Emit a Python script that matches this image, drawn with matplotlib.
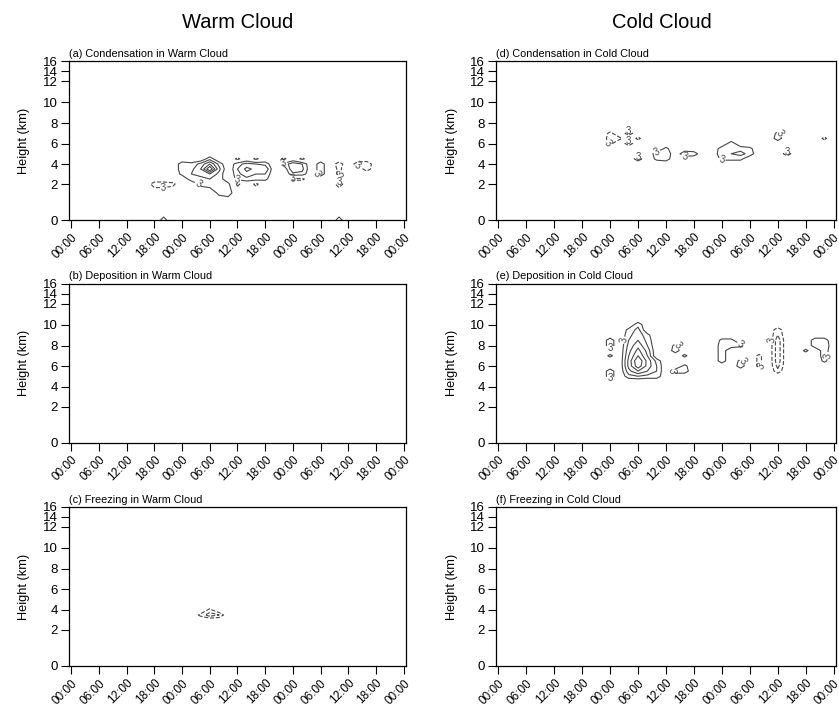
import numpy as np
import matplotlib
matplotlib.use("Agg")
import matplotlib.pyplot as plt

plt.rcParams['font.family'] = ['Liberation Sans', 'DejaVu Sans']

# time axis: 72 h, tick every 6 h
tick_hours = list(range(0, 73, 6))
tick_labels = ['00:00', '06:00', '12:00', '18:00'] * 3 + ['00:00']
height_ticks = [0, 2, 4, 6, 8, 10, 12, 14, 16]

# grid the values were read on (2 h x 0.5 km)
grid_hours = np.arange(0, 73, 2)
grid_km = np.arange(0, 16.01, 0.5)

# nonzero cells: (height km, first hour, values every 2 h)
cond_warm = [
    (0.0, 20, [4.5]), (0.0, 58, [4.5]),
    (2.0, 18, [-5, -5, -4]),
    (4.5, 30, [5]),
    (4.0, 24, [5, 4, 7, 12, 5]),
    (3.5, 24, [5, 5, 9, 18, 7]),
    (3.0, 24, [4, 6, 7, 9, 5]),
    (2.5, 26, [5, 5, 6, 5]),
    (2.0, 28, [4, 5, 5, 4]),
    (1.5, 32, [4, 5]),
    (4.5, 36, [-4, 0, -4, 0]),
    (4.0, 36, [5, 7, 6, 5]),
    (3.5, 36, [6, 10, 8, 9]),
    (3.0, 36, [5, 8, 6, 6]),
    (2.5, 36, [4, 5, 5, 4]),
    (2.0, 36, [-4, 0, -4, 0]),
    (4.5, 46, [-4, 0, -4]),
    (4.0, 46, [4, 8, 6]),
    (3.5, 48, [9, 7]),
    (3.0, 48, [5, 5]),
    (2.5, 48, [-4, -4]),
    (4.0, 54, [5]), (3.5, 54, [5]), (3.0, 54, [5]),
    (4.0, 58, [-5]), (3.5, 58, [-4]), (3.0, 58, [-4]), (2.0, 58, [-5]),
    (4.0, 62, [-5, -6]), (3.5, 64, [-5]),
]
dep_warm = []
frz_warm = [
    (3.5, 28, [-4, -8, -6]), (4.0, 30, [-4]),
]
cond_cold = [
    (7.0, 24, [-4, 0, -5]),
    (6.5, 24, [-5, -4, 0, -4]),
    (6.0, 24, [-4, 0, -5, 0]),
    (4.5, 30, [5]),
    (5.5, 36, [4]),
    (5.0, 34, [5, 6]), (4.5, 34, [4, 5]),
    (5.0, 40, [6, 5]),
    (6.0, 50, [5]),
    (5.5, 48, [5, 6, 5, 4]),
    (5.0, 48, [6, 6, 7, 5]),
    (4.5, 48, [4, 4, 4]),
    (7.0, 60, [4]), (6.5, 60, [5]),
    (5.0, 62, [-5]),
    (6.5, 70, [-4]),
]
dep_cold = [
    (10.0, 30, [5]),
    (9.5, 28, [4, 7]),
    (9.0, 28, [5, 8, 4]),
    (8.5, 24, [5, 0, 6, 9, 5]),
    (8.0, 24, [5, 0, 7, 11, 6]),
    (7.5, 28, [8, 13, 8]),
    (7.0, 24, [4, 0, 9, 15, 9]),
    (6.5, 28, [10, 18, 11, 5]),
    (6.0, 28, [10, 17, 11, 6]),
    (5.5, 24, [5, 0, 8, 12, 9, 6]),
    (5.0, 24, [5, 0, 5, 6, 5, 5]),
    (8.0, 38, [4]), (7.5, 38, [5]), (7.0, 40, [4]), (6.0, 40, [4]),
    (5.5, 38, [5, 5]),
    (8.5, 48, [4, 4]), (8.0, 48, [5, 5, 4]), (7.5, 48, [5]),
    (7.0, 48, [5]), (6.5, 48, [5, 0, 4]), (6.0, 52, [5]),
    (7.0, 56, [-4]), (6.5, 56, [-4]), (6.0, 56, [-4]),
    (9.5, 60, [-5]), (9.0, 60, [-6]), (8.5, 60, [-8]), (8.0, 60, [-8]),
    (7.5, 60, [-8]), (7.0, 60, [-8]), (6.5, 60, [-8]), (6.0, 60, [-7]),
    (5.5, 60, [-5]),
    (8.5, 68, [5, 5]), (8.0, 68, [5, 6]), (7.5, 66, [4, 0, 5]),
    (7.0, 70, [5]), (6.5, 70, [4]),
]
frz_cold = []

levels = [-12, -9, -6, -3, 3, 6, 9, 12, 15]

# stretched height axis (model levels)
h_ref = [0, 2, 4, 6, 8, 10, 12, 14, 16]
p_ref = [0, 36, 56, 76.5, 97, 118, 139, 149, 159]


def fwd(h):
    return np.interp(h, h_ref, p_ref)


def inv(p):
    return np.interp(p, p_ref, h_ref)


def build(cells):
    z = np.zeros((len(grid_km), len(grid_hours)))
    for h_km, start, vals in cells:
        i = int(round(h_km / 0.5))
        j = start // 2
        z[i, j:j + len(vals)] = vals
    return z


fig = plt.figure(figsize=(8.39, 7.07), dpi=100)

# data, title, column, row, label contours?
panels = [
    (cond_warm, '(a) Condensation in Warm Cloud', 0, 0, True),
    (dep_warm, '(b) Deposition in Warm Cloud', 0, 1, False),
    (frz_warm, '(c) Freezing in Warm Cloud', 0, 2, False),
    (cond_cold, '(d) Condensation in Cold Cloud', 1, 0, True),
    (dep_cold, '(e) Deposition in Cold Cloud', 1, 1, True),
    (frz_cold, '(f) Freezing in Cold Cloud', 1, 2, False),
]
lefts = [0.0822, 0.5912]
widths = [0.4017, 0.4052]
bottoms = [0.6888, 0.3741, 0.0580]

for cells, title, col, row, lab in panels:
    ax = fig.add_axes([lefts[col], bottoms[row], widths[col], 0.2249])
    ax.set_yscale('function', functions=(fwd, inv))
    if cells:
        z = build(cells)
        cs = ax.contour(grid_hours, grid_km, z, levels=levels, colors='#484848',
                        linewidths=0.8)
        if lab:
            ax.clabel(cs, levels=[-3, 3], fmt=lambda v: '3', fontsize=7,
                      inline=True, inline_spacing=1)
    ax.set_xlim(-0.5, 72.5)
    ax.set_ylim(0, 16)
    ax.set_xticks(tick_hours)
    ax.set_xticklabels(tick_labels, rotation=45, ha='right',
                       rotation_mode='anchor', fontsize=8.5)
    ax.set_yticks(height_ticks)
    ax.set_yticklabels([str(t) for t in height_ticks], fontsize=9.5)
    ax.yaxis.set_minor_locator(matplotlib.ticker.NullLocator())
    ax.tick_params(direction='out', length=6, width=0.8, pad=2)
    ax.set_ylabel('Height (km)', fontsize=9.2, labelpad=9)
    ax.set_title(title, loc='left', fontsize=7.8, pad=3)
    for s in ax.spines.values():
        s.set_linewidth(0.9)

fig.text(0.283, 0.968, 'Warm Cloud', ha='center', va='center', fontsize=14.5)
fig.text(0.789, 0.968, 'Cold Cloud', ha='center', va='center', fontsize=14.5)

fig.savefig('out.png', dpi=100)
